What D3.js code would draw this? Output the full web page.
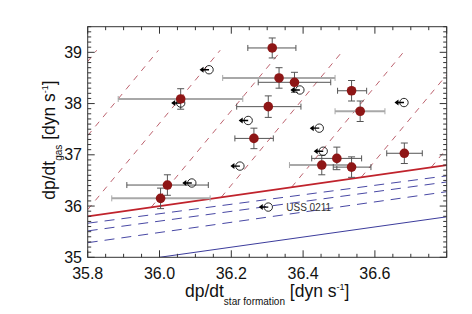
<!DOCTYPE html>
<html>
<head>
<meta charset="utf-8">
<script src="https://cdn.jsdelivr.net/npm/d3@7"></script>
<style>
  body { margin: 0; background: #fff; }
  text { font-family: "Liberation Sans", Arial, sans-serif; fill: #111; }
</style>
</head>
<body>
<svg id="chart" width="472" height="314"></svg>
<script>
// detections: x, y, x error range, y error
var detX    = [36.059, 36.314, 36.333, 36.376, 36.303, 36.263, 36.535, 36.559, 36.682, 36.494, 36.452, 36.535, 36.022, 36.003]
var detY    = [38.09, 39.085, 38.50, 38.415, 37.94, 37.32, 38.25, 37.85, 37.03, 36.93, 36.80, 36.76, 36.41, 36.15]
var detXlo  = [35.885, 36.246, 36.176, 36.275, 36.215, 36.210, 36.496, 36.489, 36.633, 36.424, 36.362, 36.484, 35.909, 35.867]
var detXhi  = [36.232, 36.380, 36.489, 36.477, 36.394, 36.317, 36.577, 36.628, 36.732, 36.563, 36.530, 36.589, 36.136, 36.141]
var detYerr = [0.2, 0.195, 0.2, 0.195, 0.21, 0.2, 0.2, 0.2, 0.2, 0.22, 0.19, 0.2, 0.2, 0.2]
var detLight = [1, 0, 1, 0, 0, 0, 0, 1, 0, 0, 1, 0, 0, 1]

// upper limits in x
var limX = [36.138, 36.059, 36.391, 36.681, 36.247, 36.445, 36.456, 36.224, 36.090, 36.303]
var limY = [38.66, 38.01, 38.265, 38.02, 37.67, 37.52, 37.07, 36.78, 36.45, 35.98]
var limLabel = ["", "", "", "", "", "", "", "", "", "USS 0211"]

// reference lines [[x1, y1], [x2, y2]]
var redSolid = [[35.8, 35.8], [36.8, 36.8]]
var blueSolid = [[36.0, 35.0], [36.8, 35.79]]
var blueDashed = [
   [[35.8, 35.665], [36.8, 36.59]],
   [[35.8, 35.515], [36.8, 36.47]],
   [[35.8, 35.285], [36.8, 36.28]]
]
var redDashed = [
   [[35.8, 38.82], [35.825, 39.04]],
   [[35.8, 37.375], [35.997, 39.04]],
   [[35.8, 35.93], [36.169, 39.04]],
   [[35.977, 35.977], [36.340, 39.04]],
   [[36.172, 36.172], [36.512, 39.04]],
   [[36.368, 36.368], [36.684, 39.04]],
   [[36.562, 36.562], [36.8, 38.56]],
   [[36.757, 36.757], [36.8, 37.12]]
]

var xTicks = [35.8, 36.0, 36.2, 36.4, 36.6]
var yTicks = [35, 36, 37, 38, 39]

var svg = d3.select("#chart")
var pLeft = 87.7, pRight = 446.7, pTop = 26.7, pBottom = 257.3

var xScale = d3.scaleLinear().domain([35.8, 36.8]).range([pLeft, pRight])
var yScale = d3.scaleLinear().domain([35, 39.5]).range([pBottom, pTop])

svg.append("defs").append("clipPath").attr("id", "plot-clip")
   .append("rect")
   .attr("x", pLeft).attr("y", pTop)
   .attr("width", pRight - pLeft).attr("height", pBottom - pTop)

var plot = svg.append("g").attr("clip-path", "url(#plot-clip)")
var line = d3.line().x(d => xScale(d[0])).y(d => yScale(d[1]))

plot.selectAll(".red-dash")
   .data(redDashed)
   .join("path")
   .attr("class", "red-dash")
   .attr("d", line)
   .attr("fill", "none")
   .attr("stroke", "#b4505e")
   .attr("stroke-width", 0.9)
   .attr("stroke-dasharray", "6,6")

plot.selectAll(".blue-dash")
   .data(blueDashed)
   .join("path")
   .attr("class", "blue-dash")
   .attr("d", line)
   .attr("fill", "none")
   .attr("stroke", "#4848a4")
   .attr("stroke-width", 1)
   .attr("stroke-dasharray", "10,7")

plot.append("path")
   .attr("d", line(blueSolid))
   .attr("fill", "none")
   .attr("stroke", "#3c3c9c")
   .attr("stroke-width", 1)

plot.append("path")
   .attr("d", line(redSolid))
   .attr("fill", "none")
   .attr("stroke", "#c0232c")
   .attr("stroke-width", 1.8)

// axes box with inward ticks
var xMinor = d3.range(0, 21).map(i => 35.8 + i * 0.05)
var yMinor = d3.range(0, 46).map(i => 35 + i * 0.1)

var axes = svg.append("g").attr("stroke", "#333").attr("stroke-width", 1)
axes.append("rect")
   .attr("x", pLeft).attr("y", pTop)
   .attr("width", pRight - pLeft).attr("height", pBottom - pTop)
   .attr("fill", "none")

xMinor.forEach(function(v, i) {
   var len = (i % 4 == 0) ? 7 : 3.5
   var x = xScale(v)
   axes.append("line").attr("x1", x).attr("x2", x).attr("y1", pBottom).attr("y2", pBottom - len)
   axes.append("line").attr("x1", x).attr("x2", x).attr("y1", pTop).attr("y2", pTop + len)
})
yMinor.forEach(function(v, i) {
   var len = (i % 10 == 0) ? 7 : 3.5
   var y = yScale(v)
   axes.append("line").attr("x1", pLeft).attr("x2", pLeft + len).attr("y1", y).attr("y2", y)
   axes.append("line").attr("x1", pRight).attr("x2", pRight - len).attr("y1", y).attr("y2", y)
})

svg.selectAll(".xtick")
   .data(xTicks)
   .join("text")
   .attr("class", "xtick")
   .attr("x", d => xScale(d))
   .attr("y", 279)
   .attr("text-anchor", "middle")
   .style("font-size", "16px")
   .text(d => d.toFixed(1))

svg.selectAll(".ytick")
   .data(yTicks)
   .join("text")
   .attr("class", "ytick")
   .attr("x", 82)
   .attr("y", d => yScale(d) + 5.5)
   .attr("text-anchor", "end")
   .style("font-size", "16px")
   .text(d => d)

// x and y error bars
var detIdx = d3.range(detX.length)
var bars = plot.append("g")
detIdx.forEach(function(i) {
   var col = detLight[i] ? "#a8a8a8" : "#555"
   var w = detLight[i] ? 2 : 1
   var y = yScale(detY[i])
   bars.append("line")
      .attr("x1", xScale(detXlo[i])).attr("x2", xScale(detXhi[i]))
      .attr("y1", y).attr("y2", y)
      .attr("stroke", col).attr("stroke-width", w)
   ;[detXlo[i], detXhi[i]].forEach(function(e) {
      bars.append("line")
         .attr("x1", xScale(e)).attr("x2", xScale(e))
         .attr("y1", y - 3).attr("y2", y + 3)
         .attr("stroke", col).attr("stroke-width", 1)
   })
   var x = xScale(detX[i])
   var y1 = yScale(detY[i] - detYerr[i]), y2 = yScale(detY[i] + detYerr[i])
   bars.append("line")
      .attr("x1", x).attr("x2", x).attr("y1", y1).attr("y2", y2)
      .attr("stroke", "#555").attr("stroke-width", 1)
   ;[y1, y2].forEach(function(yy) {
      bars.append("line")
         .attr("x1", x - 3.5).attr("x2", x + 3.5).attr("y1", yy).attr("y2", yy)
         .attr("stroke", "#555").attr("stroke-width", 1)
   })
})

// upper limits: open circle with arrow to the left
var lims = plot.append("g")
d3.range(limX.length).forEach(function(i) {
   var x = xScale(limX[i]), y = yScale(limY[i])
   lims.append("circle")
      .attr("cx", x).attr("cy", y).attr("r", 4.2)
      .attr("fill", "none").attr("stroke", "#111").attr("stroke-width", 0.9)
   lims.append("line")
      .attr("x1", x).attr("x2", x - 8).attr("y1", y).attr("y2", y)
      .attr("stroke", "#000").attr("stroke-width", 1.4)
   lims.append("path")
      .attr("d", "M" + (x - 9.5) + "," + y + "L" + (x - 5.5) + "," + (y - 3) + "L" + (x - 5.5) + "," + (y + 3) + "Z")
      .attr("fill", "#000")
   if (limLabel[i]) {
      svg.append("text")
         .attr("x", x + 18).attr("y", y + 4)
         .style("font-size", "10px")
         .style("fill", "#333")
         .text(limLabel[i])
   }
})

plot.selectAll(".det")
   .data(detIdx)
   .join("circle")
   .attr("class", "det")
   .attr("cx", i => xScale(detX[i]))
   .attr("cy", i => yScale(detY[i]))
   .attr("r", 4.8)
   .attr("fill", "#8e1616")

// axis titles
var xt = svg.append("text")
   .attr("x", (pLeft + pRight) / 2)
   .attr("y", 297)
   .attr("text-anchor", "middle")
   .style("font-size", "17.5px")
xt.append("tspan").text("dp/dt")
xt.append("tspan").attr("dy", 8).style("font-size", "10px").text("star formation")
xt.append("tspan").attr("dy", -8).text(" [dyn s")
xt.append("tspan").attr("dy", -7).style("font-size", "9px").text("-1")
xt.append("tspan").attr("dy", 7).text("]")

var yt = svg.append("text")
   .attr("transform", "translate(55," + ((pTop + pBottom) / 2 - 2) + ") rotate(-90)")
   .attr("text-anchor", "middle")
   .style("font-size", "17.5px")
yt.append("tspan").text("dp/dt")
yt.append("tspan").attr("dy", 7).style("font-size", "10px").text("gas")
yt.append("tspan").attr("dy", -7).text(" [dyn s")
yt.append("tspan").attr("dy", -7).style("font-size", "9px").text("-1")
yt.append("tspan").attr("dy", 7).text("]")
</script>
</body>
</html>
